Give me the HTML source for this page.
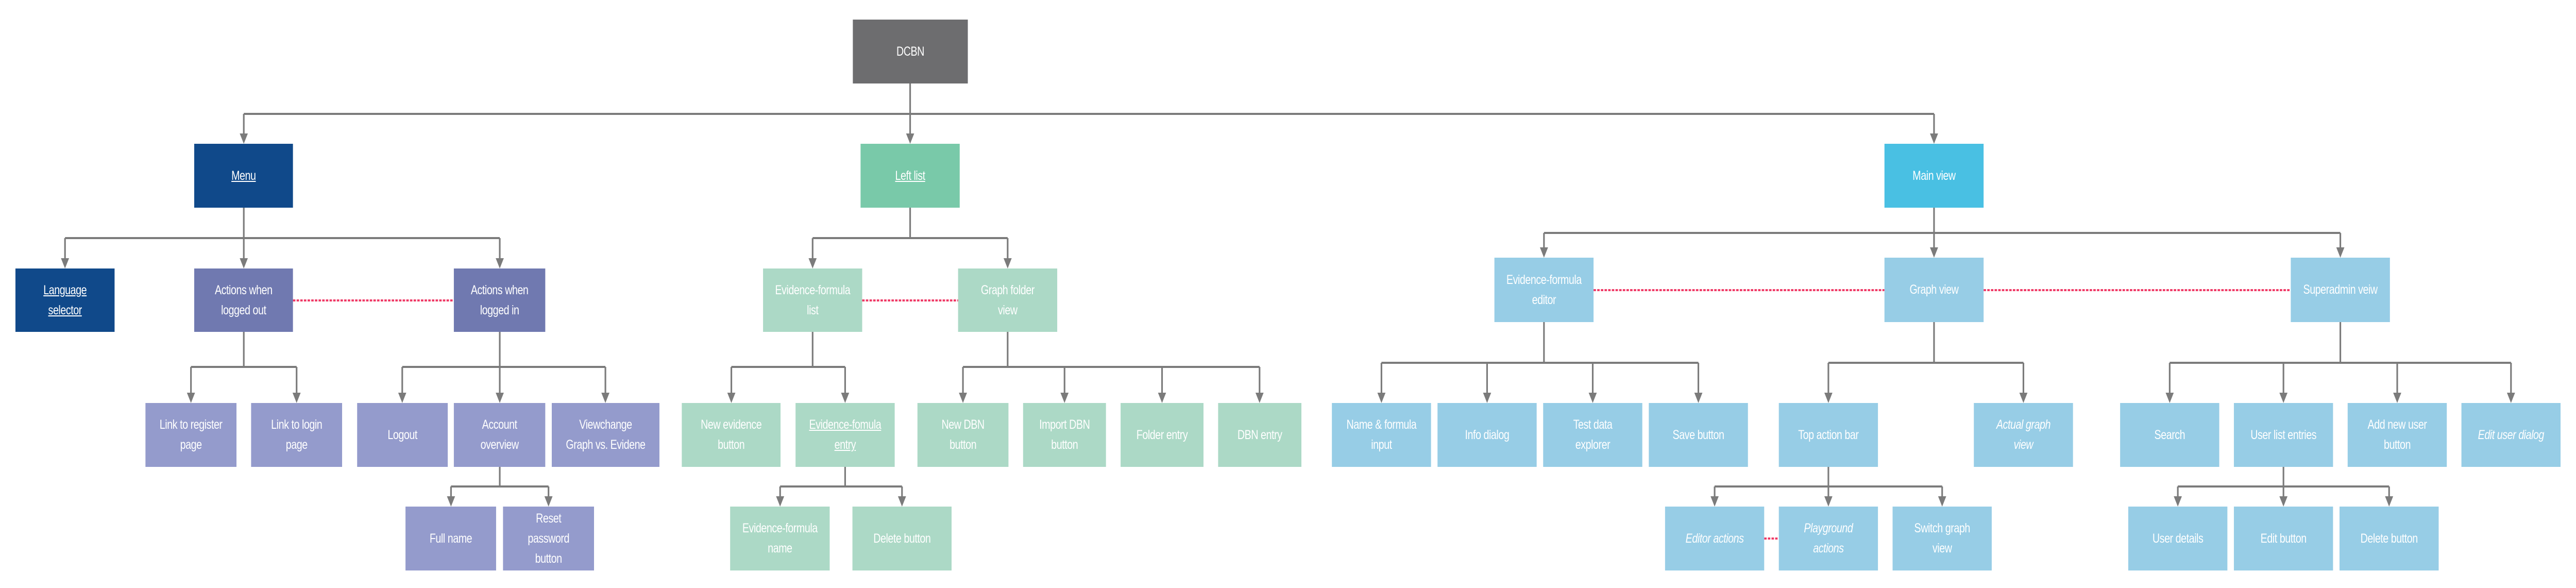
<!DOCTYPE html>
<html><head><meta charset="utf-8"><style>
html,body{margin:0;padding:0;background:#fff;overflow:hidden;}
#c{position:absolute;left:0;top:0;width:6340px;height:1141px;transform-origin:0 0;}
.b{position:absolute;display:flex;align-items:center;justify-content:center;text-align:center;color:#fff;font-family:"Liberation Sans",sans-serif;font-size:25px;line-height:39px;letter-spacing:-0.6px;box-sizing:border-box;padding:0 6px;overflow:hidden;}
.u{text-decoration:underline;}
.i{font-style:italic;}
.g{background:#6d6d6f}.db{background:#10498a}.pu{background:#7079b0}.lp{background:#949bcc}
.gr{background:#79c9a9}.lg{background:#acd9c6}.bl{background:#49c0e3}.lb{background:#97cde6}
svg{position:absolute;left:0;top:0;display:block;}
</style></head><body>
<div id="c">
<svg width="6340" height="1141" viewBox="0 0 6340 1141">
<g fill="none" stroke="#7b7b7b" stroke-width="4">
<path d="M2240 162V221M600 221H4760M600 221V262M2240 221V262M4760 221V262"/>
<path d="M600 403V462M160 462H1230M160 462V504M600 462V504M1230 462V504"/>
<path d="M2240 403V462M2000 462H2480M2000 462V504M2480 462V504"/>
<path d="M4760 403V452M3800 452H5760M3800 452V483M4760 452V483M5760 452V483"/>
<path d="M600 644V712M470 712H730M470 712V765M730 712V765"/>
<path d="M1230 644V712M990 712H1490M990 712V765M1230 712V765M1490 712V765"/>
<path d="M2000 644V712M1800 712H2080M1800 712V765M2080 712V765"/>
<path d="M2480 644V712M2370 712H3100M2370 712V765M2620 712V765M2860 712V765M3100 712V765"/>
<path d="M3800 625V704M3400 704H4180M3400 704V765M3660 704V765M3920 704V765M4180 704V765"/>
<path d="M4760 625V704M4500 704H4980M4500 704V765M4980 704V765"/>
<path d="M5760 625V704M5340 704H6180M5340 704V765M5620 704V765M5900 704V765M6180 704V765"/>
<path d="M1230 906V944M1110 944H1350M1110 944V966M1350 944V966"/>
<path d="M2080 906V944M1920 944H2220M1920 944V966M2220 944V966"/>
<path d="M4500 906V944M4220 944H4780M4220 944V966M4500 944V966M4780 944V966"/>
<path d="M5620 906V944M5360 944H5880M5360 944V966M5620 944V966M5880 944V966"/>
</g>
<g fill="#7b7b7b">
<path d="M590 259h20l-10 20zM2230 259h20l-10 20zM4750 259h20l-10 20z"/>
<path d="M150 501h20l-10 20zM590 501h20l-10 20zM1220 501h20l-10 20zM1990 501h20l-10 20zM2470 501h20l-10 20z"/>
<path d="M3790 480h20l-10 20zM4750 480h20l-10 20zM5750 480h20l-10 20z"/>
<path d="M460 762h20l-10 20zM720 762h20l-10 20zM980 762h20l-10 20zM1220 762h20l-10 20zM1480 762h20l-10 20zM1790 762h20l-10 20zM2070 762h20l-10 20zM2360 762h20l-10 20zM2610 762h20l-10 20zM2850 762h20l-10 20zM3090 762h20l-10 20z"/>
<path d="M3390 762h20l-10 20zM3650 762h20l-10 20zM3910 762h20l-10 20zM4170 762h20l-10 20zM4490 762h20l-10 20zM4970 762h20l-10 20zM5330 762h20l-10 20zM5610 762h20l-10 20zM5890 762h20l-10 20zM6170 762h20l-10 20z"/>
<path d="M1100 963h20l-10 20zM1340 963h20l-10 20zM1910 963h20l-10 20zM2210 963h20l-10 20zM4210 963h20l-10 20zM4490 963h20l-10 20zM4770 963h20l-10 20zM5350 963h20l-10 20zM5610 963h20l-10 20zM5870 963h20l-10 20z"/>
</g>
<g stroke="#ef3b67" stroke-width="4" stroke-dasharray="6,3" fill="none">
<path d="M721 583H1117M2122 583H2358M3922 563H4638M4882 563H5638M4342 1045H4378"/>
</g>
</svg>

<div class="b g" style="left:2099px;top:38px;width:283px;height:124px">DCBN</div>

<div class="b db" style="left:478px;top:279px;width:243px;height:124px"><span class="u">Menu</span></div>
<div class="b gr" style="left:2118px;top:279px;width:244px;height:124px"><span class="u">Left list</span></div>
<div class="b bl" style="left:4638px;top:279px;width:244px;height:124px">Main view</div>

<div class="b db" style="left:38px;top:521px;width:244px;height:123px"><span class="u">Language<br>selector</span></div>
<div class="b pu" style="left:478px;top:521px;width:243px;height:123px">Actions when<br>logged out</div>
<div class="b pu" style="left:1117px;top:521px;width:225px;height:123px">Actions when<br>logged in</div>
<div class="b lg" style="left:1878px;top:521px;width:244px;height:123px">Evidence-formula<br>list</div>
<div class="b lg" style="left:2358px;top:521px;width:244px;height:123px">Graph folder<br>view</div>

<div class="b lb" style="left:3678px;top:500px;width:244px;height:125px">Evidence-formula<br>editor</div>
<div class="b lb" style="left:4638px;top:500px;width:244px;height:125px">Graph view</div>
<div class="b lb" style="left:5638px;top:500px;width:244px;height:125px">Superadmin veiw</div>

<div class="b lp" style="left:358px;top:782px;width:224px;height:124px">Link to register<br>page</div>
<div class="b lp" style="left:618px;top:782px;width:224px;height:124px">Link to login<br>page</div>
<div class="b lp" style="left:879px;top:782px;width:223px;height:124px">Logout</div>
<div class="b lp" style="left:1117px;top:782px;width:225px;height:124px">Account<br>overview</div>
<div class="b lp" style="left:1358px;top:782px;width:265px;height:124px">Viewchange<br>Graph vs. Evidene</div>
<div class="b lg" style="left:1678px;top:782px;width:243px;height:124px">New evidence<br>button</div>
<div class="b lg" style="left:1958px;top:782px;width:244px;height:124px"><span class="u">Evidence-fomula<br>entry</span></div>
<div class="b lg" style="left:2258px;top:782px;width:224px;height:124px">New DBN<br>button</div>
<div class="b lg" style="left:2518px;top:782px;width:204px;height:124px">Import DBN<br>button</div>
<div class="b lg" style="left:2758px;top:782px;width:204px;height:124px">Folder entry</div>
<div class="b lg" style="left:2998px;top:782px;width:205px;height:124px">DBN entry</div>
<div class="b lb" style="left:3278px;top:782px;width:244px;height:124px">Name &amp; formula<br>input</div>
<div class="b lb" style="left:3538px;top:782px;width:244px;height:124px">Info dialog</div>
<div class="b lb" style="left:3798px;top:782px;width:244px;height:124px">Test data<br>explorer</div>
<div class="b lb" style="left:4058px;top:782px;width:244px;height:124px">Save button</div>
<div class="b lb" style="left:4378px;top:782px;width:244px;height:124px">Top action bar</div>
<div class="b lb i" style="left:4858px;top:782px;width:244px;height:124px">Actual graph<br>view</div>
<div class="b lb" style="left:5218px;top:782px;width:244px;height:124px">Search</div>
<div class="b lb" style="left:5498px;top:782px;width:244px;height:124px">User list entries</div>
<div class="b lb" style="left:5778px;top:782px;width:244px;height:124px">Add new user<br>button</div>
<div class="b lb i" style="left:6058px;top:782px;width:244px;height:124px">Edit user dialog</div>

<div class="b lp" style="left:998px;top:983px;width:223px;height:124px">Full name</div>
<div class="b lp" style="left:1238px;top:983px;width:224px;height:124px">Reset<br>password<br>button</div>
<div class="b lg" style="left:1797px;top:983px;width:245px;height:124px">Evidence-formula<br>name</div>
<div class="b lg" style="left:2098px;top:983px;width:244px;height:124px">Delete button</div>
<div class="b lb i" style="left:4098px;top:983px;width:244px;height:124px">Editor actions</div>
<div class="b lb i" style="left:4378px;top:983px;width:244px;height:124px">Playground<br>actions</div>
<div class="b lb" style="left:4658px;top:983px;width:244px;height:124px">Switch graph<br>view</div>
<div class="b lb" style="left:5238px;top:983px;width:244px;height:124px">User details</div>
<div class="b lb" style="left:5498px;top:983px;width:244px;height:124px">Edit button</div>
<div class="b lb" style="left:5758px;top:983px;width:244px;height:124px">Delete button</div>
</div>
<script>
(function(){
  var c=document.getElementById('c');
  function fit(){
    var w=window.innerWidth||6340, h=window.innerHeight||1141;
    var sx=w/6340, sy=h/1141;
    if(Math.abs(sx-1)<0.002 && Math.abs(sy-1)<0.002){c.style.transform='none';return;}
    c.style.transform='scale('+sx+','+sy+')';
  }
  fit();
  window.addEventListener('resize',fit);
})();
</script>
</body></html>
